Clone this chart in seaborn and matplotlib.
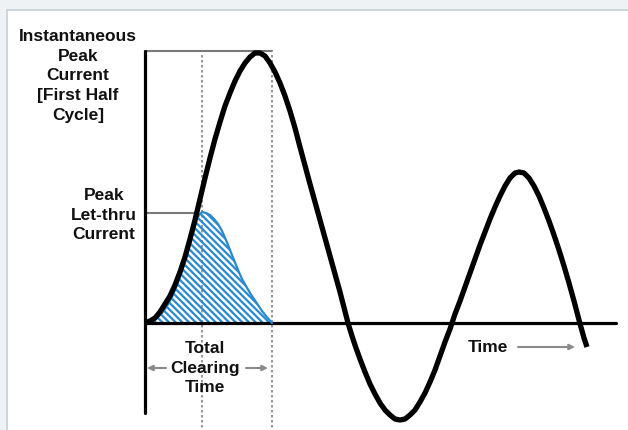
import matplotlib
matplotlib.use("Agg")
import matplotlib.pyplot as plt
import seaborn as sns
from matplotlib.patches import Rectangle

# fault current (black): time, current
fault_time = [145, 150, 155, 160, 165, 170, 175, 180, 185, 190, 195, 200, 205, 210,
              215, 220, 225, 230, 235, 240, 245, 250, 255, 260, 265, 270, 275, 280,
              285, 290, 295, 300, 310, 320, 330, 340, 348, 352, 356, 360, 365, 370,
              375, 380, 385, 390, 395, 400, 405, 410, 415, 420, 425, 430, 435, 440,
              445, 450, 452, 455, 460, 465, 470, 475, 480, 485, 490, 495, 500, 505,
              510, 515, 519, 524, 529, 534, 539, 544, 549, 554, 559, 564, 569, 574,
              579, 584, 587]
fault_current = [0, 2, 5, 11, 19, 27, 38, 51, 66, 84, 103, 124, 145, 165,
                 184, 201, 217, 230, 242, 252, 260, 266, 270, 270, 267, 260, 251, 240,
                 227, 212, 195, 176, 139, 103, 67, 31, 0, -13, -25, -36, -49, -61,
                 -71, -80, -87, -92, -96, -97, -96, -92, -87, -79, -70, -59, -47, -33,
                 -19, -6, 0, 9, 22, 36, 50, 64, 78, 91, 104, 116, 127, 137,
                 145, 150, 151, 150, 145, 137, 127, 115, 102, 88, 73, 57, 40, 22,
                 3, -15, -24]

# let-through current (blue)
let_time = [147, 152, 157, 162, 167, 172, 177, 182, 187, 192, 196, 199, 202, 206,
            210, 214, 218, 222, 226, 230, 234, 238, 242, 246, 250, 254, 258, 262,
            266, 272]
let_current = [0, 2, 5, 10, 17, 26, 38, 52, 69, 87, 101, 108, 111, 110,
               108, 104, 99, 92, 83, 73, 63, 53, 44, 37, 30, 24, 18, 12,
               7, 0]

peak_current = 272
let_thru_peak = 110
melt_time = 202
clear_time = 272

sns.set_theme(style="white")
plt.rcParams["font.family"] = ["Liberation Sans", "DejaVu Sans"]
plt.rcParams["hatch.color"] = "#2789d2"
plt.rcParams["hatch.linewidth"] = 1.6

fig = plt.figure(figsize=(6.28, 4.3), dpi=100, facecolor="#eef2f5")
ax = fig.add_axes([0, 0, 1, 1])
ax.set_xlim(0, 628)
ax.set_ylim(-107, 323)
ax.axis("off")
ax.patch.set_alpha(0)
ax.add_patch(Rectangle((7 / 628, -0.1), 1.2, 1 - 10 / 430 + 0.1,
                       transform=fig.transFigure, facecolor="white",
                       edgecolor="#c5cfd6", lw=1.2, zorder=0))

grey = "#7a7a7a"
# guide lines
ax.plot([145, clear_time], [peak_current, peak_current], color=grey, lw=1.5, zorder=2)
ax.plot([145, 197], [let_thru_peak, let_thru_peak], color=grey, lw=1.5, zorder=2)
for t in (melt_time, clear_time):
    ax.plot([t, t], [268, -107], color="#999999", lw=1.5, ls=(0, (1.2, 1.2)), zorder=1)

# axes
ax.plot([145, 145], [peak_current, -90], color="black", lw=2.3, zorder=3)
ax.plot([145, 616], [0, 0], color="black", lw=2.3, zorder=3)

# let-through area
ax.fill_between(let_time, let_current, 0, facecolor="none", edgecolor="#2789d2",
                hatch="\\" * 5, lw=0, zorder=2)
sns.lineplot(x=let_time, y=let_current, sort=False, estimator=None,
             color="#2789d2", lw=1.6, ax=ax, zorder=4)
sns.lineplot(x=fault_time, y=fault_current, sort=False, estimator=None,
             color="black", lw=3.8, ax=ax, zorder=5,
             solid_joinstyle="round", solid_capstyle="butt")

txt = dict(fontsize=12.5, fontweight="bold", ha="center", va="center",
           linespacing=1.4, color="#111111")
ax.text(78, 247, "Instantaneous\nPeak\nCurrent\n[First Half\nCycle]", **txt)
ax.text(104, 108, "Peak\nLet-thru\nCurrent", **txt)
ax.text(205, -45, "Total\nClearing\nTime", **txt)
ax.text(488, -24, "Time", **txt)

arrow = dict(arrowstyle="-|>", color="#8a8a8a", lw=1.5, mutation_scale=8,
             shrinkA=0, shrinkB=0)
ax.annotate("", xy=(147, -45), xytext=(166, -45), arrowprops=arrow)
ax.annotate("", xy=(268, -45), xytext=(246, -45), arrowprops=arrow)
ax.annotate("", xy=(575, -24), xytext=(518, -24), arrowprops=arrow)

fig.savefig("out.png", dpi=100, facecolor=fig.get_facecolor())
